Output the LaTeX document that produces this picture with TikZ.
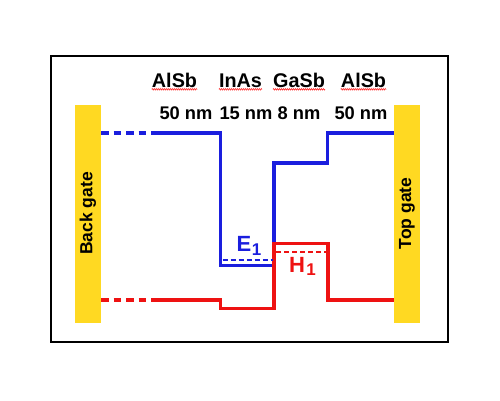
\documentclass[tikz,border=0pt]{standalone}
\usepackage{fontspec}
\setmainfont{Liberation Sans}
\usetikzlibrary{decorations.pathmorphing}
\definecolor{gatey}{RGB}{255,217,34}
\definecolor{bandblue}{RGB}{26,30,222}
\definecolor{bandred}{RGB}{238,18,18}
\begin{document}
\begin{tikzpicture}[x=1pt,y=-1pt,
  gatebar/.style={fill=gatey, rotate=90, minimum width=218pt, minimum height=26pt, inner sep=0pt,
    font=\bfseries\fontsize{17.5}{17.5}\selectfont},
  mat/.style={anchor=base, inner sep=0pt, font=\bfseries\fontsize{19.8}{20}\selectfont},
  thk/.style={anchor=base, inner sep=0pt, font=\bfseries\fontsize{18.3}{18}\selectfont},
  band/.style={line width=3.4pt, line join=miter},
  banddash/.style={line width=3.4pt, dash pattern=on 7.7pt off 4.8pt},
  level/.style={line width=1.6pt, dash pattern=on 5pt off 3pt},
  spell/.style={draw=red!80, line width=0.6pt, decorate, decoration={zigzag, amplitude=0.8pt, segment length=2pt}},
  lvl/.style={anchor=base, inner sep=0pt, font=\bfseries\fontsize{22}{22}\selectfont},
  sub/.style={anchor=base, inner sep=0pt, font=\bfseries\fontsize{17}{17}\selectfont}]
\useasboundingbox (0,0) rectangle (500,400);
% frame
\draw[line width=2pt] (51,55.7) rectangle (447.7,342.3);
% gates
\node[gatebar] (bg) at (88,213.5) {Back gate};
\node[gatebar] (tg) at (407,213.5) {Top gate};
% material labels
\node[mat] (m1) at (174.5,87) {AlSb};
\node[mat] (m2) at (240.5,87) {InAs};
\node[mat] (m3) at (299,87) {GaSb};
\node[mat] (m4) at (363.5,87) {AlSb};
\foreach \n in {m1,m2,m3,m4}
  \draw[spell] ([yshift=-2.3pt]\n.base west) -- ([yshift=-2.3pt]\n.base east);
% thickness labels
\node[thk] (t1) at (186,119.3) {50 nm};
\node[thk] (t2) at (246,119.3) {15 nm};
\node[thk] (t3) at (299,119.3) {8 nm};
\node[thk] (t4) at (361,119.3) {50 nm};
% conduction band (blue)
\coordinate (cb0) at (bg.south |- 0,133);
\coordinate (cb1) at (151,133);
\coordinate (cb9) at (tg.north |- 0,133);
\draw[banddash, bandblue] (cb0) -- (cb1);
\draw[band, bandblue] (cb1) -- (220.5,133) -- (220.5,265.5) -- (274,265.5) -- (274,163) -- (327.7,163) -- (327.7,133) -- (cb9);
% valence band (red)
\coordinate (vb0) at (bg.south |- 0,300);
\coordinate (vb1) at (151,300);
\coordinate (vb9) at (tg.north |- 0,300);
\draw[banddash, bandred] (vb0) -- (vb1);
\draw[band, bandred] (vb1) -- (220.5,300) -- (220.5,308.7) -- (274,308.7) -- (274,243.3) -- (328,243.3) -- (328,300) -- (vb9);
% levels
\coordinate (e1a) at (222.5,259.8);
\coordinate (e1b) at (272.5,259.8);
\coordinate (h1a) at (276,251.8);
\coordinate (h1b) at (326,251.8);
\draw[level, bandblue] (e1a) -- (e1b);
\draw[level, bandred] (h1a) -- (h1b);
\node[lvl, text=bandblue, anchor=base west] (E) at (236.5,251) {E};
\node[sub, text=bandblue, anchor=base west] (E1) at (E.base east) [yshift=-4pt] {1};
\node[lvl, text=bandred, anchor=base west] (H) at (289,272.3) {H};
\node[sub, text=bandred, anchor=base west] (H1) at (H.base east) [xshift=1pt,yshift=-3.5pt] {1};
\end{tikzpicture}
\end{document}
